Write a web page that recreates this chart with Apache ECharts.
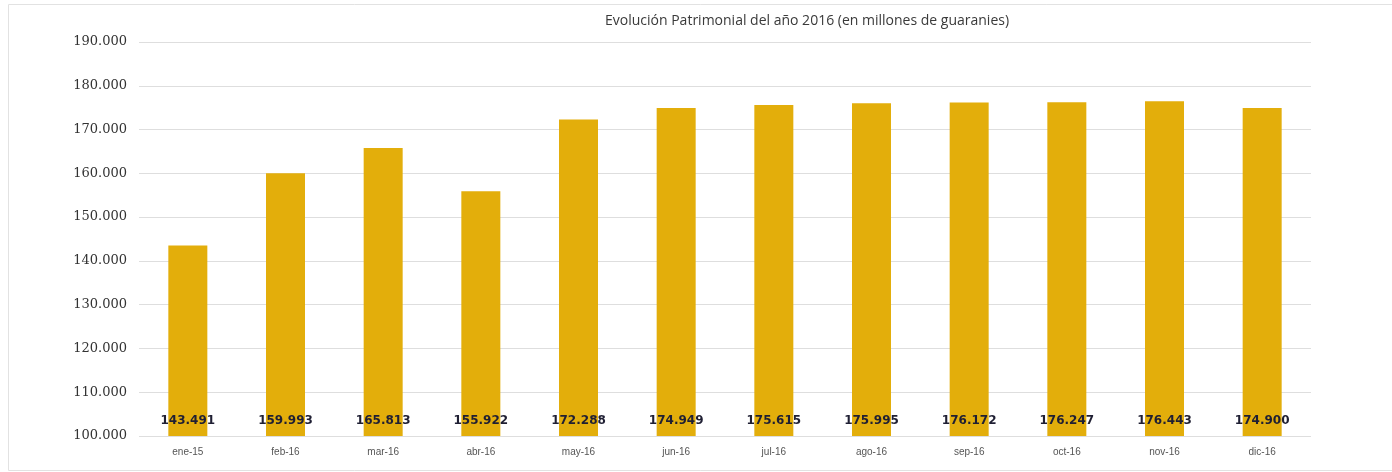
<!DOCTYPE html>
<html>
<head>
<meta charset="utf-8">
<script src="https://cdn.jsdelivr.net/npm/echarts@6/dist/echarts.min.js"></script>
<style>
  html, body { margin: 0; padding: 0; background: #ffffff; }
  #chart { width: 1392px; height: 472px; }
</style>
</head>
<body>
<div id="chart"></div>
<script>
// Monthly equity, millions of guaraníes
const months = ['ene-15', 'feb-16', 'mar-16', 'abr-16', 'may-16', 'jun-16',
                'jul-16', 'ago-16', 'sep-16', 'oct-16', 'nov-16', 'dic-16'];
const patrimonio = [143491, 159993, 165813, 155922, 172288, 174949,
                    175615, 175995, 176172, 176247, 176443, 174900];
const yMin = 100000;
const yMax = 190000;
const yStep = 10000;

// Spanish-style thousands separator: 143491 -> "143.491"
function fmt(v) {
  return String(Math.round(v)).replace(/\B(?=(\d{3})+(?!\d))/g, '.');
}

const chart = echarts.init(document.getElementById('chart'), null, { renderer: 'canvas' });

chart.setOption({
  backgroundColor: '#ffffff',
  animation: false,
  title: {
    text: 'Evolución Patrimonial del año 2016 (en millones de guaranies)',
    left: 600,
    top: 9,
    textStyle: {
      fontFamily: 'Open Sans',
      fontSize: 14,
      fontWeight: 'normal',
      color: '#3a3a3a'
    }
  },
  grid: { left: 139, right: 81, top: 42, bottom: 36 },
  xAxis: {
    type: 'category',
    data: months,
    axisLine: { show: false },
    axisTick: { show: false },
    axisLabel: {
      fontFamily: 'Liberation Sans',
      fontSize: 10,
      color: '#555555',
      margin: 11
    }
  },
  yAxis: {
    type: 'value',
    min: yMin,
    max: yMax,
    interval: yStep,
    axisLine: { show: false },
    axisTick: { show: false },
    axisLabel: {
      formatter: fmt,
      fontFamily: 'DejaVu Serif',
      fontSize: 13,
      color: '#333333',
      margin: 12
    },
    splitLine: { lineStyle: { color: '#dedede', width: 1 } }
  },
  series: [{
    type: 'bar',
    data: patrimonio,
    barWidth: 39,
    itemStyle: { color: '#E3AE0B' },
    label: {
      show: true,
      position: 'insideBottom',
      distance: 9,
      formatter: p => fmt(p.value),
      fontFamily: 'DejaVu Sans',
      fontSize: 12,
      fontWeight: 'bold',
      color: '#1f1f33'
    }
  }],
  graphic: [{
    type: 'rect',
    shape: { x: 8.5, y: 4.5, width: 1400, height: 466 },
    style: { fill: 'none', stroke: '#e2e2e2', lineWidth: 1 },
    silent: true
  }]
});
</script>
</body>
</html>
